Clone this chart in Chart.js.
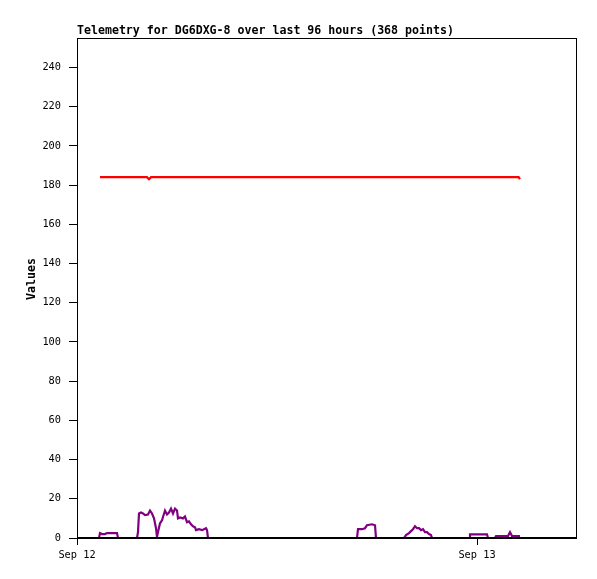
<!DOCTYPE html>
<html>
<head>
<meta charset="utf-8">
<script src="https://cdn.jsdelivr.net/npm/chart.js@4"></script>
<style>
  html, body { margin: 0; padding: 0; background: #fff; }
  #wrap { width: 597px; height: 579px; }
</style>
</head>
<body>
<div id="wrap"><canvas id="chartTelemetry" width="597" height="579"></canvas></div>
<script>
// hours since Sep 12 00:00
const chartTitle = "Telemetry for DG6DXG-8 over last 96 hours (368 points)";
const xTickValues = [0, 24];
const xTickLabels = ["Sep 12", "Sep 13"];

const redTimes  = [1.38, 4.20, 4.32, 4.44, 26.50, 26.58];
const redValues = [184, 184, 183, 184, 184, 183];

const purpleTimes = [
  1.32, 1.38, 1.50, 1.68, 1.80, 2.04, 2.22, 2.40, 2.46,
  3.60, 3.66, 3.72, 3.84, 3.96, 4.08, 4.26, 4.38, 4.50, 4.62, 4.74, 4.80, 4.86,
  4.98, 5.10, 5.28, 5.40, 5.52, 5.64, 5.76, 5.88, 6.00, 6.06, 6.18, 6.36, 6.48,
  6.60, 6.72, 6.84, 6.96, 7.08, 7.14, 7.32, 7.50, 7.62, 7.74, 7.80, 7.86,
  16.80, 16.86, 17.10, 17.28, 17.40, 17.70, 17.88, 17.94,
  19.62, 19.74, 19.92, 20.04, 20.16, 20.28, 20.40, 20.52, 20.64, 20.76, 20.88,
  21.00, 21.12, 21.24, 21.30,
  23.52, 23.58, 24.18, 24.60, 24.66,
  25.08, 25.14, 25.86, 25.98, 26.10, 26.58
];
const purpleValues = [
  0, 2.5, 2, 2, 2.5, 2.5, 2.5, 2.5, 0,
  0, 3, 12.5, 13, 12.5, 11.7, 12, 14, 12.5, 10, 5, 0.5, 3,
  7.5, 9, 14, 12, 13, 15, 12.5, 15, 14, 10, 10.5, 10, 11,
  8, 8.5, 7, 6, 5.5, 4, 4.5, 4, 4.5, 5, 4, 0,
  0, 4.5, 4.5, 5, 6.5, 7, 6.5, 0,
  0, 1.5, 2.5, 3.5, 4.5, 6, 5, 5, 4, 4.5, 3,
  3, 2, 1.5, 0,
  0, 1.8, 1.8, 1.8, 0,
  0, 1, 1, 3, 1, 1
];

const toPoints = (xs, ys) => xs.map((x, i) => ({ x: x, y: ys[i] }));
const FONT = "'DejaVu Sans Mono', 'Liberation Mono', monospace";

// title, y label and frame
const decorPlugin = {
  id: 'decor',
  afterDraw(chart) {
    const { ctx, chartArea } = chart;
    ctx.save();
    ctx.fillStyle = '#000';
    ctx.font = 'bold 11.6px ' + FONT;
    ctx.textAlign = 'left';
    ctx.textBaseline = 'middle';
    ctx.fillText(chartTitle, chartArea.left, 31);

    ctx.translate(32, (chartArea.top + chartArea.bottom) / 2 - 9);
    ctx.rotate(-Math.PI / 2);
    ctx.textAlign = 'center';
    ctx.fillText('Values', 0, 0);
    ctx.restore();

    ctx.save();
    ctx.strokeStyle = '#000';
    ctx.lineWidth = 1;
    ctx.strokeRect(chartArea.left + 0.5, chartArea.top + 0.5,
                   chartArea.right - chartArea.left - 1, chartArea.bottom - chartArea.top);
    ctx.lineWidth = 2;
    ctx.beginPath();
    ctx.moveTo(chartArea.left, chartArea.bottom);
    ctx.lineTo(chartArea.right, chartArea.bottom);
    ctx.stroke();
    ctx.restore();
  }
};

new Chart(document.getElementById('chartTelemetry'), {
  type: 'line',
  data: {
    datasets: [
      {
        data: toPoints(redTimes, redValues),
        borderColor: '#ff0000',
        borderWidth: 2.2,
        pointRadius: 0,
        tension: 0
      },
      {
        data: toPoints(purpleTimes, purpleValues),
        borderColor: '#800080',
        borderWidth: 2.2,
        pointRadius: 0,
        tension: 0
      }
    ]
  },
  options: {
    responsive: false,
    animation: false,
    layout: { padding: { left: 0, top: 38, right: 20, bottom: 0 } },
    plugins: {
      legend: { display: false },
      tooltip: { enabled: false }
    },
    scales: {
      x: {
        type: 'linear',
        min: 0,
        max: 30,
        afterFit: s => { s.height = 41; },
        afterBuildTicks: s => { s.ticks = xTickValues.map(v => ({ value: v })); },
        grid: { drawOnChartArea: false, drawTicks: true, tickLength: 7, color: '#000' },
        border: { display: false },
        ticks: {
          color: '#000',
          padding: 4,
          maxRotation: 0,
          font: { family: FONT, size: 10.3 },
          callback: v => xTickLabels[xTickValues.indexOf(v)] || ''
        }
      },
      y: {
        min: 0,
        max: 255,
        afterFit: s => { s.width = 77; },
        grid: { drawOnChartArea: false, drawTicks: true, tickLength: 8, color: '#000' },
        border: { display: false },
        ticks: {
          stepSize: 20,
          includeBounds: false,
          color: '#000',
          padding: 8,
          font: { family: FONT, size: 10.3 }
        }
      }
    }
  },
  plugins: [decorPlugin]
});
</script>
</body>
</html>
